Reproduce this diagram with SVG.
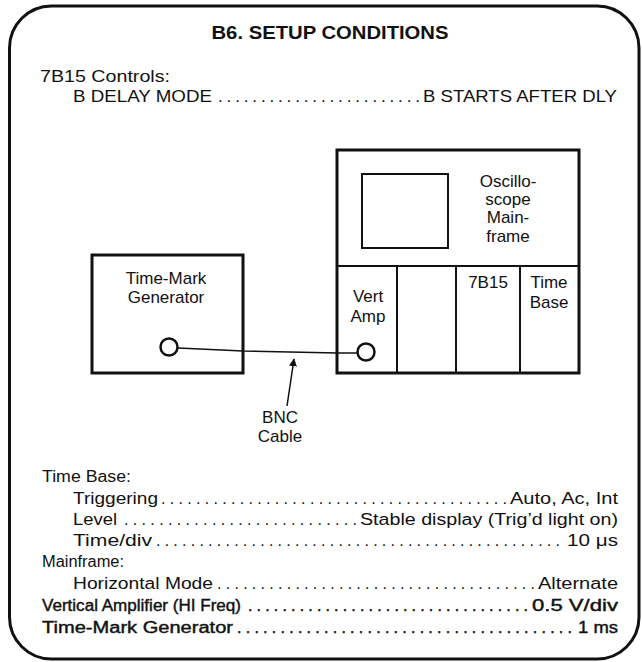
<svg xmlns="http://www.w3.org/2000/svg" width="642" height="662" viewBox="0 0 642 662">
<defs>
<style>
text{font-family:"Liberation Sans",Arial,Helvetica,sans-serif;fill:#111;}
.t17{font-size:17px;}
.t15{font-size:16px;}
.b{font-weight:bold;}
.med{stroke:#111;stroke-width:0.4;}
.mid{text-anchor:middle;}
.box{fill:none;stroke:#111;stroke-width:3;}
.thin{fill:none;stroke:#111;stroke-width:2;}
.jack{fill:#fff;stroke:#111;stroke-width:2.5;}
.cable{fill:none;stroke:#111;stroke-width:1.5;}
</style>
<marker id="ah" viewBox="0 0 10 10" refX="9" refY="5" markerWidth="8" markerHeight="8" markerUnits="userSpaceOnUse" orient="auto">
<path d="M0,0 L10,5 L0,10 Z" fill="#111"/>
</marker>
</defs>
<rect width="642" height="662" fill="#fff"/>
<rect id="frame" x="9.5" y="6" width="629.5" height="653" rx="42" ry="42" class="box" stroke-width="3.5"/>

<g id="header">
<text class="b mid" x="330" y="39" textLength="237" lengthAdjust="spacingAndGlyphs" style="font-size:18px">B6. SETUP CONDITIONS</text>
<text class="t17" x="40" y="82" textLength="130" lengthAdjust="spacingAndGlyphs">7B15 Controls:</text>
<text class="t17" x="73" y="102" textLength="139" lengthAdjust="spacingAndGlyphs">B DELAY MODE</text>
<text class="t17" x="218" y="102" textLength="202" lengthAdjust="spacing">........................</text>
<text class="t17" x="423" y="102" textLength="194" lengthAdjust="spacingAndGlyphs">B STARTS AFTER DLY</text>
</g>

<g id="mainframe">
<rect x="337" y="150" width="242" height="223" class="box"/>
<rect x="362" y="174" width="86" height="74" class="thin"/>
<line x1="337" y1="266" x2="579" y2="266" class="thin"/>
<line x1="397" y1="266" x2="397" y2="373" class="thin"/>
<line x1="456" y1="266" x2="456" y2="373" class="thin"/>
<line x1="520" y1="266" x2="520" y2="373" class="thin"/>
<text class="t17 mid" x="508" y="187">Oscillo-</text>
<text class="t17 mid" x="508" y="205">scope</text>
<text class="t17 mid" x="508" y="223">Main-</text>
<text class="t17 mid" x="508" y="242">frame</text>
<text class="t17 mid" x="368" y="302">Vert</text>
<text class="t17 mid" x="368" y="322">Amp</text>
<text class="t17 mid" x="488" y="288">7B15</text>
<text class="t17 mid" x="549" y="288">Time</text>
<text class="t17 mid" x="549" y="308">Base</text>
</g>

<g id="timemark">
<rect x="92" y="255" width="151" height="118" class="box"/>
<text class="t17 mid" x="166" y="284">Time-Mark</text>
<text class="t17 mid" x="166" y="303">Generator</text>
</g>

<g id="connectors">
<path d="M178,348 L243,351 L337,353 L357,353" class="cable"/>
<path d="M287,406 Q290,386 294,359" class="cable" stroke-width="2" marker-end="url(#ah)"/>
<circle cx="169" cy="347" r="8.5" class="jack"/>
<circle cx="366" cy="352" r="8.5" class="jack"/>
</g>

<g id="cable-label">
<text class="t17 mid" x="280" y="423">BNC</text>
<text class="t17 mid" x="280" y="442">Cable</text>
</g>

<g id="settings">
<text class="t15" x="42" y="482" textLength="89" lengthAdjust="spacingAndGlyphs">Time Base:</text>

<text class="t15" x="73" y="504" textLength="85" lengthAdjust="spacingAndGlyphs">Triggering</text>
<text class="t15" x="161" y="504" textLength="346" lengthAdjust="spacing">........................................</text>
<text class="t15" x="510" y="504" textLength="108" lengthAdjust="spacingAndGlyphs">Auto, Ac, Int</text>

<text class="t15" x="73" y="525" textLength="44" lengthAdjust="spacingAndGlyphs">Level</text>
<text class="t15" x="124" y="525" textLength="233" lengthAdjust="spacing">...........................</text>
<text class="t15" x="360" y="525" textLength="258" lengthAdjust="spacingAndGlyphs">Stable display (Trig’d light on)</text>

<text class="t15" x="73" y="546" textLength="79" lengthAdjust="spacingAndGlyphs">Time/div</text>
<text class="t15" x="156" y="546" textLength="404" lengthAdjust="spacing">...............................................</text>
<text class="t15" x="567" y="546" textLength="51" lengthAdjust="spacingAndGlyphs">10 μs</text>

<text class="t15" x="42" y="567" textLength="82" lengthAdjust="spacingAndGlyphs">Mainframe:</text>

<text class="t15" x="73" y="589" textLength="140" lengthAdjust="spacingAndGlyphs">Horizontal Mode</text>
<text class="t15" x="217" y="589" textLength="318" lengthAdjust="spacing">.....................................</text>
<text class="t15" x="538" y="589" textLength="80" lengthAdjust="spacingAndGlyphs">Alternate</text>

<text class="t15 med" x="42" y="611" textLength="199" lengthAdjust="spacingAndGlyphs">Vertical Amplifier (HI Freq)</text>
<text class="t15 med" x="248" y="611" textLength="280" lengthAdjust="spacing">.................................</text>
<text class="t15 med" x="532" y="611" textLength="86" lengthAdjust="spacingAndGlyphs">0.5 V/div</text>

<text class="t15 med" x="42" y="633" textLength="191" lengthAdjust="spacingAndGlyphs">Time-Mark Generator</text>
<text class="t15 med" x="237" y="633" textLength="335" lengthAdjust="spacing">.......................................</text>
<text class="t15 med" x="578" y="633" textLength="40" lengthAdjust="spacingAndGlyphs">1 ms</text>
</g>
</svg>
